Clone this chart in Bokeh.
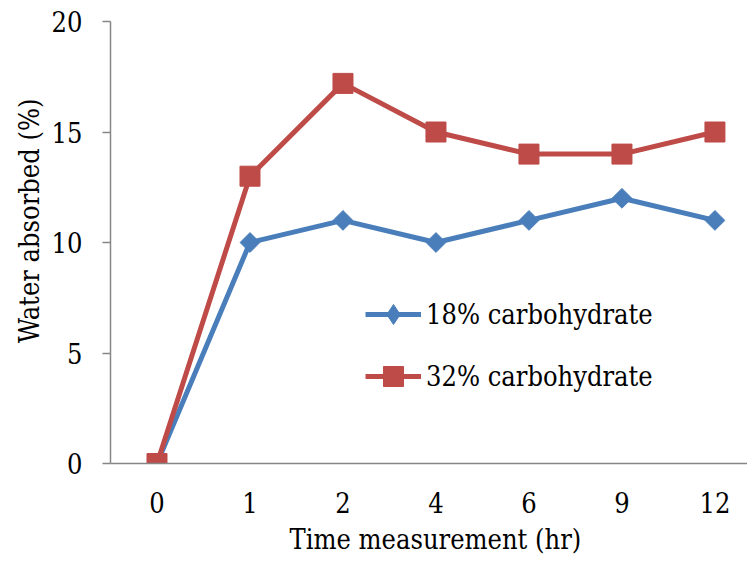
import math
from bokeh.plotting import figure
from bokeh.models import Range1d, FixedTicker, Legend, LegendItem, Title
from bokeh.embed import file_html
from bokeh.resources import INLINE

# Measurement times (categories) and absorbed water (%) per formulation
times = ["0", "1", "2", "4", "6", "9", "12"]
carb18 = [0, 10, 11, 10, 11, 12, 11]
carb32 = [0, 13, 17.2, 15, 14, 14, 15]
y_ticks = [0, 5, 10, 15, 20]

FONT = "DejaVu Serif Condensed"
FS = "27px"
AXIS_GREY = "#868686"
BLUE = "#4A7EBB"
RED = "#BE4B48"

xs = list(range(len(times)))

p = figure(
    frame_width=637, frame_height=442,
    min_border_left=110, min_border_right=0,
    min_border_top=21, min_border_bottom=104,
    x_range=Range1d(-0.5, 6.35), y_range=Range1d(0, 20),
    output_backend="svg", toolbar_location=None,
)
p.outline_line_color = None
p.background_fill_color = "white"
p.border_fill_color = "white"
p.xgrid.visible = False
p.ygrid.visible = False

# Y axis
ya = p.yaxis[0]
ya.ticker = FixedTicker(ticks=y_ticks)
ya.minor_tick_line_color = None
ya.major_tick_in = 0
ya.major_tick_out = 8
ya.major_tick_line_color = AXIS_GREY
ya.axis_line_color = AXIS_GREY
ya.axis_line_width = 1.5
ya.major_tick_line_width = 1.5
ya.major_label_text_font = FONT
ya.major_label_text_font_size = FS
ya.major_label_text_color = "black"
ya.major_label_standoff = 20

# Y axis title, anchored from the top of the frame
p.add_layout(Title(
    text="Water absorbed (%)", align="right", offset=77, standoff=8,
    text_font=FONT, text_font_size=FS, text_font_style="normal",
    text_color="black",
), "left")

# X axis (categorical positions)
xa = p.xaxis[0]
xa.ticker = FixedTicker(ticks=xs)
xa.major_label_overrides = {i: t for i, t in enumerate(times)}
xa.minor_tick_line_color = None
xa.major_tick_in = 0
xa.major_tick_out = 0
xa.axis_line_color = AXIS_GREY
xa.axis_line_width = 1.5
xa.major_label_text_font = FONT
xa.major_label_text_font_size = FS
xa.major_label_text_color = "black"
xa.major_label_standoff = 28

# X axis title, anchored from the left of the frame
p.add_layout(Title(
    text="Time measurement (hr)", align="left", offset=179, standoff=12,
    text_font=FONT, text_font_size=FS, text_font_style="normal",
    text_color="black",
), "below")

# Series: diamonds drawn as squares turned by 45 degrees
l1 = p.line(xs, carb18, line_color=BLUE, line_width=5)
p.scatter(xs, carb18, marker="square", angle=math.pi / 4, size=14,
          fill_color=BLUE, line_color=BLUE)
l2 = p.line(xs, carb32, line_color=RED, line_width=5)
m2 = p.scatter(xs, carb32, marker="square", size=20,
               fill_color=RED, line_color=RED)

# Legend key for the diamond series
nan = float("nan")
k1 = p.scatter([nan], [nan], marker="diamond", fill_color=BLUE, line_color=BLUE)

legend = Legend(
    items=[
        LegendItem(label="18% carbohydrate", renderers=[l1, k1]),
        LegendItem(label="32% carbohydrate", renderers=[l2, m2]),
    ],
    location=(255, 62),
    orientation="vertical",
    border_line_color=None,
    background_fill_alpha=0,
    padding=0, margin=0,
    spacing=12,
    glyph_width=56, glyph_height=50,
    label_height=30, label_standoff=5,
    label_text_font=FONT, label_text_font_size=FS,
    label_text_color="black",
)
p.add_layout(legend)

open("out.html", "w").write(file_html(p, INLINE))
